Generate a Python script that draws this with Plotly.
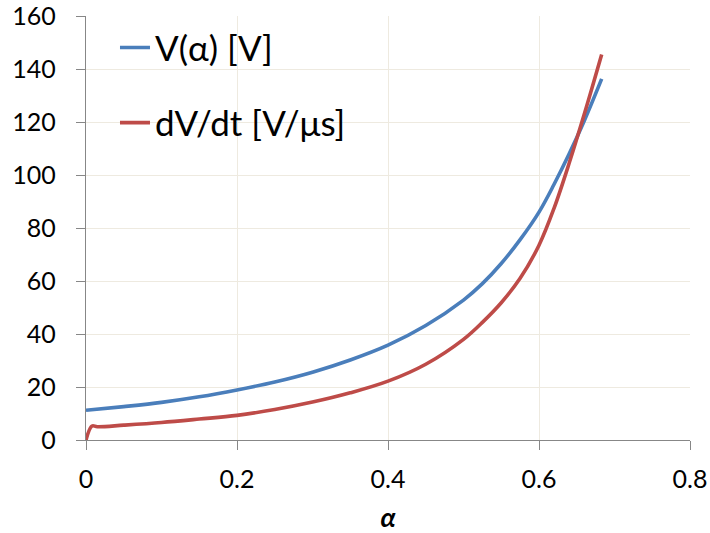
import plotly.graph_objects as go

# ---- data ----
alpha_v = [0, 0.05, 0.1, 0.15, 0.2, 0.25, 0.3, 0.35, 0.4, 0.45, 0.5, 0.525, 0.55, 0.575, 0.6, 0.62, 0.64, 0.66, 0.683]
v_alpha = [11.2, 12.6, 14.2, 16.3, 18.9, 21.9, 25.6, 30.2, 35.8, 43.2, 52.8, 59.0, 66.6, 75.6, 86.0, 96.5, 108.0, 120.5, 136.3]

alpha_d = [0, 0.008, 0.015, 0.05, 0.1, 0.15, 0.2, 0.25, 0.3, 0.35, 0.4, 0.45, 0.5, 0.525, 0.55, 0.575, 0.6, 0.62, 0.64, 0.66, 0.683]
dv_dt = [0, 5.3, 5.0, 5.6, 6.6, 7.9, 9.3, 11.5, 14.3, 17.8, 22.2, 28.6, 38.0, 44.4, 51.8, 61.0, 73.5, 87.5, 104.5, 123.0, 145.5]

x_ticks = [0, 0.2, 0.4, 0.6, 0.8]
x_tick_text = ["0", "0.2", "0.4", "0.6", "0.8"]
y_ticks = [0, 20, 40, 60, 80, 100, 120, 140, 160]

series_names = ["V(α) [V]", "dV/dt [V/μs]"]
series_colors = ["#4A7EBB", "#BE4B48"]

FONT = "Lato, 'Open Sans', sans-serif"
GRID = "#EEEAE0"
AXIS = "#878787"

fig = go.Figure()
fig.add_trace(go.Scatter(
    x=alpha_v, y=v_alpha, mode="lines", name=series_names[0],
    line=dict(color=series_colors[0], width=3.6, shape="spline", smoothing=1.0),
    legend="legend",
))
fig.add_trace(go.Scatter(
    x=alpha_d, y=dv_dt, mode="lines", name=series_names[1],
    line=dict(color=series_colors[1], width=3.6, shape="spline", smoothing=1.0),
    legend="legend2",
))

# white area behind the legend that hides the gridlines
fig.add_shape(type="rect", xref="paper", yref="paper",
              x0=0.002, x1=0.4735, y0=0.66, y1=1.0,
              fillcolor="white", line_width=0, layer="between")

axis_common = dict(
    showgrid=True, gridcolor=GRID, gridwidth=1.3,
    showline=True, linecolor=AXIS, linewidth=1.3,
    ticks="outside", tickcolor=AXIS, ticklen=9, tickwidth=1.3,
    zeroline=False, automargin=False, ticklabeloverflow="allow",
    tickfont=dict(family=FONT, size=25, color="#000000"),
)

fig.update_xaxes(
    range=[0, 0.8], tickmode="array", tickvals=x_ticks, ticktext=x_tick_text,
    ticklabelstandoff=8,
    title=dict(text="<b><i>α</i></b>", font=dict(family=FONT, size=27, color="#000000"), standoff=22),
    **axis_common,
)
fig.update_yaxes(
    range=[0, 160], tickmode="array", tickvals=y_ticks,
    ticklabelstandoff=15,
    **axis_common,
)

legend_common = dict(
    bgcolor="rgba(255,255,255,0)", borderwidth=0,
    font=dict(family=FONT, size=35, color="#000000"),
    xanchor="left", yanchor="middle", itemwidth=30,
)

fig.update_layout(
    width=710, height=533,
    margin=dict(l=86, r=20, t=16, b=93),
    paper_bgcolor="white", plot_bgcolor="white",
    showlegend=True,
    legend=dict(x=0.048, y=0.925, **legend_common),
    legend2=dict(x=0.048, y=0.748, **legend_common),
)

fig.write_html("out.html", config={"displayModeBar": False},
               post_script="document.body.style.margin='0';")
